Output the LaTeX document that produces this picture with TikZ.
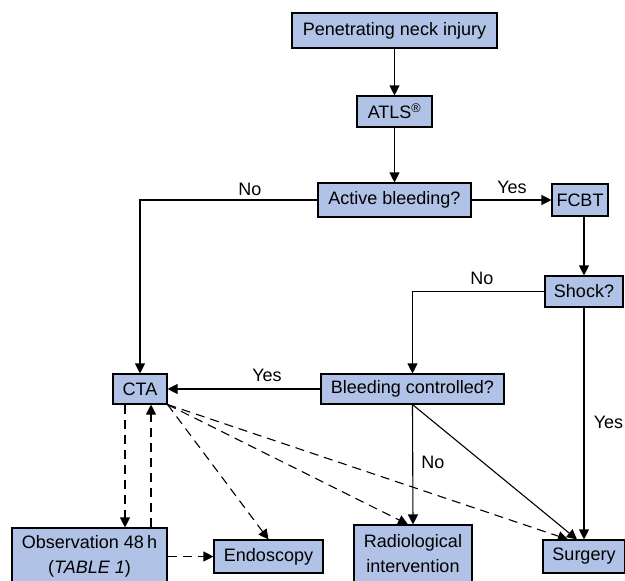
\documentclass[tikz,border=0pt]{standalone}
\usepackage{fontspec}
\setmainfont{Liberation Sans}
\usetikzlibrary{arrows.meta}
\definecolor{boxblue}{RGB}{176,194,229}

\begin{document}
\begin{tikzpicture}[x=1pt,y=-1pt,
  box/.style={draw,fill=boxblue,line width=1.1pt,inner sep=0pt,align=center,font=\fontsize{18}{25}\selectfont},
  lbl/.style={inner sep=0pt,font=\fontsize{18}{22}\selectfont},
  arr/.style={line width=1.1pt,-{Triangle[length=10pt,width=10pt]}},
  darr/.style={arr,dash pattern=on 9pt off 6pt}]
  \clip (0,0) rectangle (625,581);
  \node[box,minimum width=205pt,minimum height=35pt] (pni) at (394.5,30.5) {Penetrating neck injury};
  \node[box,minimum width=75pt,minimum height=31pt] (atls) at (394.5,111.5) {ATLS\textsuperscript{®}};
  \node[box,minimum width=153pt,minimum height=34pt] (active) at (394.5,200) {Active bleeding?};
  \node[box,minimum width=56pt,minimum height=32pt] (fcbt) at (580,200) {FCBT};
  \node[box,minimum width=78pt,minimum height=31pt] (shock) at (584,291.5) {Shock?};
  \node[box,minimum width=54pt,minimum height=30pt] (cta) at (140,389) {CTA};
  \node[box,minimum width=183pt,minimum height=30pt] (ctrl) at (412.5,389) {Bleeding controlled?};
  \node[box,minimum width=155pt,minimum height=57pt] (obs) at (89.5,556.5) {Observation 48\,h\\(\textit{TABLE 1})};
  \node[box,minimum width=109pt,minimum height=33pt] (endo) at (268.5,556.5) {Endoscopy};
  \node[box,minimum width=118pt,minimum height=57pt] (radio) at (413,553.5) {Radiological\\intervention};
  \node[box,minimum width=82pt,minimum height=33pt] (surg) at (584,556.5) {Surgery};

  % solid connectors
  \draw[arr] (pni) -- (atls);
  \draw[arr] (atls) -- (active);
  \draw[arr] (active) -- (fcbt);
  \draw[arr] (active.west) -- (cta.north |- active.west) -- (cta.north);
  \draw[arr] (shock.north |- fcbt.south) -- (shock.north);
  \draw[arr] (shock.west) -- (ctrl.north |- shock.west) -- (ctrl.north);
  \draw[arr] (shock.south) -- (surg.north);
  \draw[arr] (ctrl) -- (cta);
  \draw[arr] (ctrl.south) -- (radio.north);
  \draw[arr] (ctrl.south) -- ([xshift=-7pt]surg.north);

  % dashed connectors
  \draw[darr] ([xshift=-15pt]cta.south) -- ([xshift=-15pt]cta.south |- obs.north);
  \draw[darr] ([xshift=11pt]cta.south |- obs.north) -- ([xshift=11pt]cta.south);
  \draw[darr] (obs.east |- endo.west) -- (endo.west);
  \draw[darr] (cta.south east) -- (endo.north);
  \draw[darr] (cta.south east) -- ([xshift=-5pt]radio.north);
  \draw[darr] (cta.south east) -- ([xshift=-16pt]surg.north);

  % labels
  \node[lbl] (no1) at (250,189) {No};
  \node[lbl] (yes1) at (512,187) {Yes};
  \node[lbl] (no2) at (482,278) {No};
  \node[lbl] (yes2) at (267,375) {Yes};
  \node[lbl] (no3) at (433,462) {No};
  \node[lbl] (yes3) at (608.5,422) {Yes};
\end{tikzpicture}
\end{document}
